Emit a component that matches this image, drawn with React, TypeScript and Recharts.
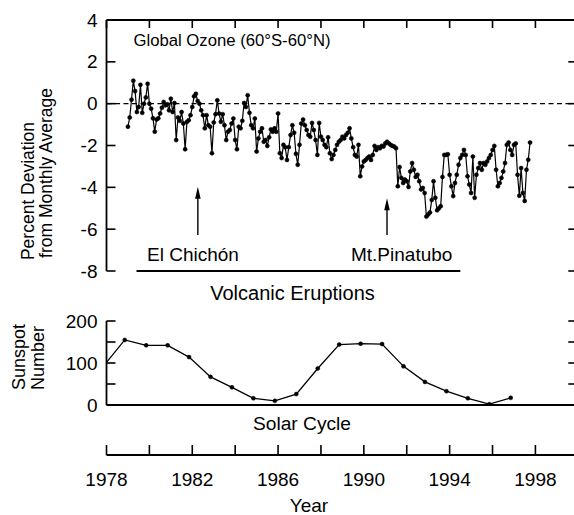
import React from 'react';
import { LineChart, Line, XAxis, YAxis, ReferenceLine } from 'recharts';

const FONT = '"Liberation Sans", Arial, Helvetica, sans-serif';

// ---------- data ----------
const yearTicks = [1978, 1980, 1982, 1984, 1986, 1988, 1990, 1992, 1994, 1996, 1998, 2000];
const yearLabels = [1978, 1982, 1986, 1990, 1994, 1998];
const xStart = 1978;
const xEnd = 2000;
const ozoneTicks = [-8, -6, -4, -2, 0, 2, 4];
const ozoneRightTicks = [-8, -6, -4, -2, 0, 2];
const sunspotTicks = [0, 50, 100, 150, 200];
const sunspotLabels = [0, 100, 200];
const sunspotRightTicks = [50, 100, 150, 200];

// monthly global ozone deviation (%), starting January 1979
const ozoneStartYear = 1979;
const ozone1979to1985 = [
  -1.1, -0.66, 0.19, 1.1, 0.6, -0.4, -0.16, 0.9, -0.44, 0,
  0.3, 0.95, 0, -0.24, -0.7, -1.34, -0.76, -0.7, -0.47, -0.19,
  0.08, -0.08, -0.03, -0.32, 0.24, -0.4, 0.03, -1.74, -0.66, -0.82,
  -0.4, -0.95, -2.18, -0.87, -0.79, -0.55, -0.16, 0.35, 0.47, 0.13,
  0, -0.32, -0.55, -1.18, -0.55, -1.03, -1.1, -2.37, -0.9, -0.5,
  0.16, -0.47, -0.87, -0.5, -1.03, -1.74, -1.34, -1.26, -0.95, -0.71,
  -1.74, -2.18, -1.1, -1.18, -0.82, 0.03, -0.16, 0.4, -0.44, -1.03,
  -1.18, -0.71, -2.29,
];
const ozone1985to1991 = [
  -1.66, -1.34, -1.18, -1.82, -1.74, -2.02, -1.61, -1.23, -1.34, -1.18,
  -1.34, -0.47, -2.37, -2.6, -1.97, -2.08, -2.69, -2.08, -1.5, -1.03,
  -1.39, -2.4, -2.92, -1.97, -0.95, -0.76, -1.03, -1.26, -1.5, -1.58,
  -0.92, -1.26, -1.74, -2.45, -0.92, -1.58, -1.74, -1.97, -2.08, -1.61,
  -2.37, -2.65, -2.45, -2.21, -1.97, -1.82, -1.74, -1.58, -1.66, -1.5,
  -1.39, -1.18, -1.66, -2.08, -2.45, -2.53, -1.97, -3.47, -3.0, -2.76,
  -2.69, -2.6, -2.53, -2.69, -2.45, -2.02, -2.21, -2.08, -2.13, -2.02,
  -2.05, -1.9, -1.82, -1.9, -1.97, -2.02, -2.05, -2.13, -3.95,
];
const ozone1991to1997 = [
  -3.03, -3.55, -3.79, -3.63, -3.71, -3.98, -3.24, -2.84, -3.16, -3.5,
  -3.4, -3.71, -4.1, -4.03, -4.27, -5.4, -5.3, -5.2, -4.6, -3.71,
  -4.5, -5.1, -5.0, -4.9, -3.5, -2.45, -2.45, -2.42, -3.4, -3.95,
  -4.42, -3.79, -3.4, -2.92, -2.6, -2.45, -2.21, -2.45, -3.47, -3.87,
  -4.27, -2.53, -4.5, -3.4, -3.08, -2.84, -3.16, -2.84, -2.92, -2.76,
  -2.6, -2.45, -2.21, -2.02, -3.16, -3.95, -3.79, -3.55, -3.24, -2.84,
  -1.97, -1.86, -2.21, -2.45, -1.97, -1.9, -3.4, -4.4, -3.08, -4.27,
  -4.65, -3.16, -2.68, -1.86,
];

// annual sunspot numbers (plotted positions)
const sunspotYears = [
  1977.85, 1978.85, 1979.85, 1980.85, 1981.85, 1982.85, 1983.85, 1984.85, 1985.85, 1986.85,
  1987.85, 1988.85, 1989.85, 1990.85, 1991.85, 1992.85, 1993.85, 1994.85, 1995.85, 1996.85,
];
const sunspotValues = [
  92, 155, 142, 142, 114, 67, 42, 16, 10, 26,
  87, 144, 146, 145, 92, 55, 33, 16, 2, 17,
];

// volcanic eruptions
const elChichonYear = 1982.26;
const pinatuboYear = 1991.08;
const eruptionBar = [1979.4, 1994.5];

const ozoneData = [...ozone1979to1985, ...ozone1985to1991, ...ozone1991to1997].map((v, i) => ({
  t: ozoneStartYear + i / 12,
  v,
}));
const sunspotData = sunspotYears.map((t, i) => ({ t, v: sunspotValues[i] }));

// ---------- geometry / styles ----------
const CHART_W = 590;
const LEFT_W = 106.5;
const INK = '#000';
const FRAME_W = 1.8;
const TICK_W = 1.6;

const makeLeftTick = (labels: number[]) => (p: any) => {
  const val = p.payload.value;
  return (
    <g>
      <line x1={p.x} y1={p.y} x2={p.x + 9} y2={p.y} stroke={INK} strokeWidth={TICK_W} />
      {labels.includes(val) && (
        <text x={p.x - 9} y={p.y} textAnchor="end" dominantBaseline="central" fontSize={19} fontFamily={FONT} fill={INK}>
          {val}
        </text>
      )}
    </g>
  );
};

const TopTick = (p: any) => (
  <line x1={p.x} y1={p.y} x2={p.x} y2={p.y + 8} stroke={INK} strokeWidth={TICK_W} />
);
const RightTick = (p: any) => (
  <line x1={p.x - 10} y1={p.y} x2={p.x} y2={p.y} stroke={INK} strokeWidth={TICK_W} />
);

const YearTick = (p: any) => {
  const val = p.payload.value;
  return (
    <g>
      <line x1={p.x} y1={p.y} x2={p.x} y2={p.y - 10} stroke={INK} strokeWidth={TICK_W} />
      {yearLabels.includes(val) && (
        <text x={p.x} y={p.y + 31} textAnchor="middle" fontSize={19} fontFamily={FONT} fill={INK}>
          {val}
        </text>
      )}
    </g>
  );
};

const ArrowShape = (p: any) => {
  const x = p.x1;
  const top = Math.min(p.y1, p.y2);
  const bottom = Math.max(p.y1, p.y2);
  return (
    <g>
      <line x1={x} y1={top + 8} x2={x} y2={bottom} stroke={INK} strokeWidth={1.4} />
      <polygon points={`${x},${top} ${x - 2.8},${top + 12} ${x + 2.8},${top + 12}`} fill={INK} />
    </g>
  );
};

const abs = (top: number): React.CSSProperties => ({ position: 'absolute', left: 0, top });

export default function App() {
  return (
    <div style={{ position: 'absolute', left: 0, top: 0, width: 574, height: 515, overflow: 'hidden', background: '#fff' }}>
      {/* Ozone panel */}
      <div style={abs(0)}>
        <LineChart width={CHART_W} height={300} data={ozoneData} margin={{ top: 19, right: 10.7, bottom: 29, left: 0 }}>
          <XAxis dataKey="t" type="number" domain={[xStart, xEnd]} allowDataOverflow ticks={yearTicks} hide />
          <XAxis
            xAxisId="top"
            dataKey="t"
            type="number"
            orientation="top"
            domain={[xStart, xEnd]}
            allowDataOverflow
            ticks={yearTicks}
            interval={0}
            height={1}
            tickSize={0}
            tickMargin={0}
            tickLine={false}
            tick={TopTick}
            axisLine={{ stroke: INK, strokeWidth: FRAME_W }}
          />
          <YAxis
            type="number"
            domain={[-8, 4]}
            allowDataOverflow
            ticks={ozoneTicks}
            interval={0}
            width={LEFT_W}
            tickSize={0}
            tickMargin={0}
            tickLine={false}
            tick={makeLeftTick(ozoneTicks)}
            axisLine={{ stroke: INK, strokeWidth: FRAME_W }}
          />
          <YAxis
            yAxisId="r"
            orientation="right"
            dataKey="v"
            type="number"
            domain={[-8, 4]}
            allowDataOverflow
            ticks={ozoneRightTicks}
            interval={0}
            width={1}
            tickSize={0}
            tickMargin={0}
            tickLine={false}
            tick={RightTick}
            axisLine={{ stroke: INK, strokeWidth: FRAME_W }}
          />
          <ReferenceLine y={0} stroke={INK} strokeWidth={1.3} strokeDasharray="5 3.5" />
          <ReferenceLine
            segment={[
              { x: eruptionBar[0], y: -8 },
              { x: eruptionBar[1], y: -8 },
            ]}
            stroke={INK}
            strokeWidth={FRAME_W}
          />
          <ReferenceLine
            segment={[
              { x: elChichonYear, y: -3.97 },
              { x: elChichonYear, y: -6.28 },
            ]}
            shape={ArrowShape}
          />
          <ReferenceLine
            segment={[
              { x: pinatuboYear, y: -4.52 },
              { x: pinatuboYear, y: -6.28 },
            ]}
            shape={ArrowShape}
          />
          <Line
            dataKey="v"
            type="linear"
            stroke={INK}
            strokeWidth={1.2}
            dot={{ r: 2, fill: INK, stroke: INK, strokeWidth: 0.6 }}
            isAnimationActive={false}
          />
        </LineChart>
      </div>

      {/* Sunspot panel + year axis */}
      <div style={abs(300)}>
        <LineChart width={CHART_W} height={215} data={sunspotData} margin={{ top: 21, right: 10.7, bottom: 59, left: 0 }}>
          <XAxis
            xAxisId="base"
            dataKey="t"
            type="number"
            domain={[xStart, xEnd]}
            allowDataOverflow
            ticks={yearTicks}
            height={50}
            tick={false}
            tickLine={false}
            axisLine={false}
          />
          <XAxis
            xAxisId="year"
            dataKey="t"
            type="number"
            domain={[xStart, xEnd]}
            allowDataOverflow
            ticks={yearTicks}
            interval={0}
            height={1}
            tickSize={0}
            tickMargin={0}
            tickLine={false}
            tick={YearTick}
            axisLine={{ stroke: INK, strokeWidth: FRAME_W }}
          />
          <YAxis
            type="number"
            domain={[0, 200]}
            allowDataOverflow
            ticks={sunspotTicks}
            interval={0}
            width={LEFT_W}
            tickSize={0}
            tickMargin={0}
            tickLine={false}
            tick={makeLeftTick(sunspotLabels)}
            axisLine={{ stroke: INK, strokeWidth: FRAME_W }}
          />
          <YAxis
            yAxisId="r"
            orientation="right"
            dataKey="v"
            type="number"
            domain={[0, 200]}
            allowDataOverflow
            ticks={sunspotRightTicks}
            interval={0}
            width={1}
            tickSize={0}
            tickMargin={0}
            tickLine={false}
            tick={RightTick}
            axisLine={{ stroke: INK, strokeWidth: FRAME_W }}
          />
          <ReferenceLine xAxisId="base" y={0} stroke={INK} strokeWidth={FRAME_W} ifOverflow="extendDomain" />
          <Line
            xAxisId="base"
            dataKey="v"
            type="linear"
            stroke={INK}
            strokeWidth={1.3}
            dot={{ r: 2, fill: INK, stroke: INK, strokeWidth: 0.5 }}
            isAnimationActive={false}
          />
        </LineChart>
      </div>

      {/* Text overlay */}
      <svg width={574} height={515} style={{ position: 'absolute', left: 0, top: 0, pointerEvents: 'none' }} fontFamily={FONT} fill={INK}>
        <text x={133.5} y={46} fontSize={16.7}>Global Ozone (60°S-60°N)</text>
        <text transform="translate(34,191) rotate(-90)" textAnchor="middle" fontSize={17.5}>Percent Deviation</text>
        <text transform="translate(52,173) rotate(-90)" textAnchor="middle" fontSize={17.5}>from Monthly Average</text>
        <text transform="translate(25,357) rotate(-90)" textAnchor="middle" fontSize={18}>Sunspot</text>
        <text transform="translate(44,358) rotate(-90)" textAnchor="middle" fontSize={18}>Number</text>
        <text x={193} y={261} textAnchor="middle" fontSize={19}>El Chichón</text>
        <text x={401.7} y={261} textAnchor="middle" fontSize={19}>Mt.Pinatubo</text>
        <text x={292.5} y={300} textAnchor="middle" fontSize={20}>Volcanic Eruptions</text>
        <text x={302} y={430} textAnchor="middle" fontSize={19.2}>Solar Cycle</text>
        <text x={309} y={512} textAnchor="middle" fontSize={19}>Year</text>
      </svg>
    </div>
  );
}
